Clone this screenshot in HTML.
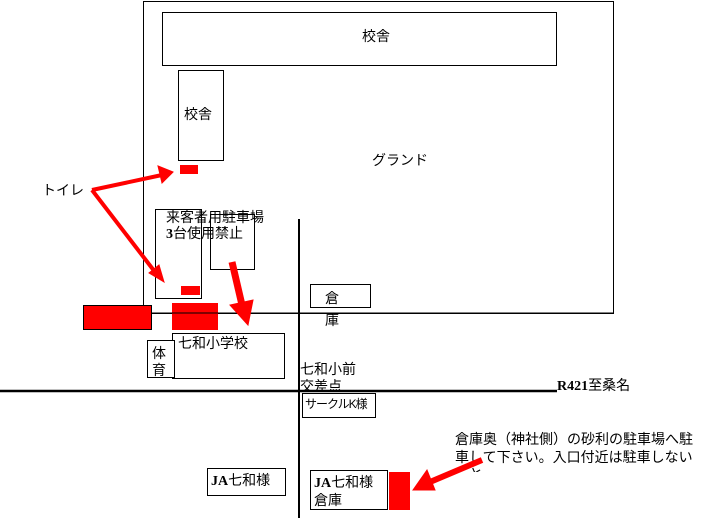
<!DOCTYPE html>
<html><head><meta charset="utf-8"><style>
body{margin:0;width:705px;height:518px;background:#fff;overflow:hidden;position:relative;font-family:"Liberation Sans","Noto Sans CJK JP",sans-serif;}
.b{position:absolute;border:1px solid #000;background:#fff;box-sizing:border-box;}
.t{position:absolute;font-size:14px;line-height:16px;white-space:nowrap;color:#000;}
.r{position:absolute;background:#f00;}
</style></head><body>
<div class="b" style="left:143px;top:1px;width:471px;height:313px;"></div>
<div class="b" style="left:162px;top:12px;width:395px;height:54px;"></div>
<div class="t" style="left:362px;top:28px;">校舎</div>
<div class="b" style="left:178px;top:70px;width:46px;height:91px;"></div>
<div class="t" style="left:184px;top:106px;">校舎</div>
<div class="r" style="left:180px;top:165px;width:18px;height:9px;"></div>
<div class="t" style="left:372px;top:152px;">グランド</div>
<div class="t" style="left:42px;top:182px;">トイレ</div>
<div class="b" style="left:155px;top:209px;width:47px;height:90px;"></div>
<div class="b" style="left:210px;top:214px;width:45px;height:56px;background:transparent;"></div>
<div class="t" style="left:166px;top:209px;">来客者用駐車場</div>
<div class="t" style="left:166px;top:225px;"><b style="font-family:'Liberation Serif',serif">3</b>台使用禁止</div>
<div class="r" style="left:181px;top:286px;width:19px;height:9px;"></div>
<div class="r" style="left:83px;top:305px;width:69px;height:25px;border:1px solid #000;box-sizing:border-box;"></div>
<div class="r" style="left:172px;top:303px;width:46px;height:27px;"></div>
<div class="b" style="left:310px;top:284px;width:61px;height:24px;"></div>
<div class="t" style="left:325px;top:290px;">倉</div>
<div class="t" style="left:325px;top:312px;">庫</div>
<div class="b" style="left:172px;top:333px;width:113px;height:46px;"></div>
<div class="t" style="left:178px;top:335px;">七和小学校</div>
<div class="b" style="left:147px;top:340px;width:28px;height:38px;"></div>
<div class="t" style="left:152px;top:345px;">体</div>
<div class="t" style="left:152px;top:362px;">育</div>
<div class="t" style="left:300px;top:361px;">七和小前</div>
<div class="t" style="left:300px;top:378px;height:12px;overflow:hidden;">交差点</div>
<div class="t" style="left:557px;top:377px;"><b style="font-family:'Liberation Serif',serif">R421</b>至桑名</div>
<div class="b" style="left:302px;top:393px;width:74px;height:25px;"></div>
<div class="t" style="left:305px;top:396px;font-size:12px;letter-spacing:-1px;">サークルK様</div>
<div class="t" style="left:455px;top:431px;">倉庫奥（神社側）の砂利の駐車場へ駐</div>
<div class="t" style="left:455px;top:449px;">車して下さい。入口付近は駐車しない</div>
<div class="t" style="left:455px;top:466px;height:6px;overflow:hidden;">こと。</div>
<div class="b" style="left:207px;top:468px;width:79px;height:28px;"></div>
<div class="t" style="left:211px;top:472px;"><b style="font-family:'Liberation Serif',serif">JA</b>七和様</div>
<div class="b" style="left:310px;top:470px;width:78px;height:40px;"></div>
<div class="t" style="left:314px;top:474px;"><b style="font-family:'Liberation Serif',serif">JA</b>七和様</div>
<div class="t" style="left:314px;top:492px;">倉庫</div>
<div class="r" style="left:389px;top:472px;width:21px;height:38px;"></div>
<svg width="705" height="518" style="position:absolute;left:0;top:0">
<line x1="0" y1="391" x2="557" y2="391" stroke="#000" stroke-width="2.5"/>
<line x1="299" y1="219" x2="299" y2="518" stroke="#000" stroke-width="2"/>
<line x1="152" y1="313" x2="614" y2="313" stroke="#000" stroke-width="1"/>
<g stroke="#f00" stroke-width="4" fill="#f00">
<line x1="92" y1="190" x2="162" y2="175"/>
<polygon points="173,172 158,166 162,183" stroke-width="1"/>
<line x1="92" y1="190" x2="155" y2="272"/>
<polygon points="164,282 149,273 159,265" stroke-width="1"/>
<line x1="232" y1="262" x2="242" y2="305" stroke-width="7"/>
<polygon points="248,325 230,305 253,300" stroke-width="1"/>
<line x1="482" y1="460" x2="430" y2="482" stroke-width="6"/>
<polygon points="413,490 427,470 435,490" stroke-width="1"/>
</g>
</svg>
</body></html>
